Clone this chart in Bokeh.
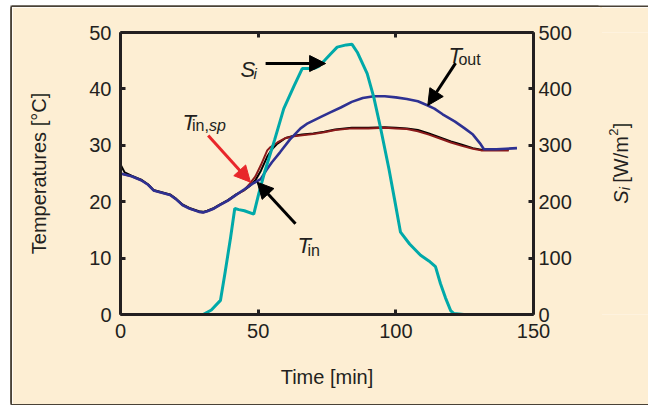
import math
from bokeh.plotting import figure
from bokeh.layouts import row
from bokeh.models import (Range1d, LinearAxis, FixedTicker, Label, Arrow, NormalHead,
                          CustomJSTickFormatter)
from bokeh.embed import file_html
from bokeh.resources import INLINE

# ---------------- data ----------------
t_si = [0, 30, 33, 36.3, 38, 40, 41.5, 43, 45, 48.4, 50.2, 52.5, 56, 59.3, 63, 66, 70.2, 72,
        74, 76.3, 78.7, 82, 84.1, 86, 89.6, 92, 94.4, 97.5, 99.5, 101.7, 105, 109, 112, 114.4,
        116.2, 118, 119.9, 121, 124.7, 144]
si = [0, 0, 8, 25, 75, 137, 188, 186, 184, 178, 214, 255, 310, 365, 405, 436, 436, 440,
      450, 462, 474, 478, 479, 465, 427, 385, 332, 258, 205, 146, 125, 105, 95, 85,
      55, 30, 7, 2, 0, 0]

t_out = [0, 4, 7.5, 10, 12, 15, 18, 20, 22.5, 25, 28.5, 30, 31.5, 34, 36, 39, 42, 45, 48,
         50.9, 53, 55, 58, 61.5, 65.4, 68, 72.6, 76, 80, 84, 88, 92, 96, 100, 104, 108,
         111.4, 114, 117, 121.5, 125, 128, 130.8, 132, 136.5, 140, 144]
T_out = [25.0, 24.5, 23.8, 23.0, 22.0, 21.6, 21.2, 20.5, 19.4, 18.8, 18.2, 18.1, 18.3, 18.8,
         19.4, 20.2, 21.2, 22.2, 23.2, 24.0, 25.6, 27.0, 28.8, 31.0, 33.0, 33.9, 35.0, 35.8,
         36.7, 37.7, 38.4, 38.7, 38.7, 38.5, 38.2, 37.8, 37.1, 36.5, 35.5, 34.2, 33.0, 31.9,
         30.2, 29.3, 29.3, 29.4, 29.5]

t_sp = [0, 4, 7.5, 10, 12, 15, 18, 20, 22.5, 25, 28.5, 30, 31.5, 34, 36, 39, 42, 44.8, 47,
        49, 51, 53.3, 54.5, 57, 60, 63, 66, 70, 74, 78, 84, 90, 96, 100, 104, 108, 112, 116,
        120, 124, 128, 131, 135, 141]
T_sp = [25.0, 24.5, 23.8, 23.0, 22.0, 21.6, 21.2, 20.5, 19.4, 18.8, 18.2, 18.1, 18.3, 18.8,
        19.4, 20.2, 21.2, 22.0, 23.2, 24.5, 26.5, 29.1, 29.7, 30.5, 31.3, 31.6, 31.8, 32.0,
        32.3, 32.7, 33.0, 33.0, 33.1, 33.0, 32.9, 32.5, 31.9, 31.2, 30.5, 29.9, 29.4, 29.1,
        29.1, 29.1]

t_in = [0, 1.5, 4, 7.5, 10, 12, 15, 18, 20, 22.5, 25, 28.5, 30, 31.5, 34, 36, 39, 42, 44.8,
        47, 49, 51, 53.3, 55, 57, 60, 63, 66, 70, 74, 78, 84, 90, 96, 100, 104, 108, 112,
        116, 120, 124, 128, 131, 135, 141]
T_in = [26.6, 25.2, 24.6, 23.9, 23.1, 22.1, 21.7, 21.3, 20.6, 19.5, 18.9, 18.3, 18.2, 18.4,
        18.9, 19.5, 20.3, 21.3, 22.0, 22.8, 23.8, 25.5, 28.0, 29.3, 30.3, 31.3, 31.7, 31.9,
        32.1, 32.4, 32.8, 33.1, 33.1, 33.2, 33.1, 33.0, 32.7, 32.1, 31.4, 30.7, 30.1, 29.5,
        29.2, 29.2, 29.2]

x_ticks = [0, 50, 100, 150]
y_ticks = [0, 10, 20, 30, 40, 50]
si_ticks = [0, 100, 200, 300, 400, 500]

# ---------------- style ----------------
BEIGE = "#FDEED3"
INK = "#231F20"
EDGE = "#4A4237"
FONT = "Liberation Sans"

p = figure(width=588, height=397, output_backend="svg", toolbar_location=None,
           x_range=Range1d(0, 150), y_range=Range1d(0, 50),
           min_border_left=108, min_border_right=67, min_border_top=25, min_border_bottom=90,
           background_fill_color=BEIGE, border_fill_color=BEIGE)
p.margin = (7, 0, 1, 12)
p.styles = {"box-shadow": f"2px 0 0 0 {BEIGE}, -1.5px 0 0 0 {EDGE}, 0 -1.5px 0 0 {EDGE}, "
                          f"0 1.5px 0 0 {EDGE}, -1.5px -1.5px 0 0 {EDGE}, -1.5px 1.5px 0 0 {EDGE}"}
p.extra_y_ranges = {"si": Range1d(0, 500)}
p.grid.visible = False
p.outline_line_color = None

bottom_ax = p.below[0]
left_ax = p.left[0]
right_ax = LinearAxis(y_range_name="si")
top_ax = LinearAxis()
p.add_layout(right_ax, "right")
p.add_layout(top_ax, "above")


def style(ax, ticks, standoff):
    ax.ticker = FixedTicker(ticks=ticks)
    ax.axis_line_width = 3
    ax.axis_line_color = INK
    ax.major_tick_in = 5
    ax.major_tick_out = 0
    ax.major_tick_line_width = 3
    ax.major_tick_line_color = INK
    ax.minor_tick_line_color = None
    ax.major_label_text_font = FONT
    ax.major_label_text_font_size = "20px"
    ax.major_label_text_color = INK
    ax.major_label_standoff = standoff
    ax.axis_label_text_font = FONT
    ax.axis_label_text_font_size = "20px"
    ax.axis_label_text_font_style = "normal"
    ax.axis_label_text_color = INK


style(bottom_ax, x_ticks, 9)
style(left_ax, y_ticks, 9)
style(right_ax, si_ticks, 5)
style(top_ax, x_ticks, 0)
top_ax.formatter = CustomJSTickFormatter(code="return ''")
top_ax.major_label_text_font_size = "1px"

bottom_ax.axis_label = "Time [min]"
bottom_ax.axis_label_standoff = 25
left_ax.axis_label = "Temperatures [°C]"
left_ax.axis_label_standoff = 36

# ---------------- lines ----------------
p.line(t_in, T_in, color="black", line_width=2)
p.line(t_sp, T_sp, color="#8B1A1A", line_width=2)
p.line(t_out, T_out, color="#2E3192", line_width=2.6)
p.line(t_si, si, color="#00A9A9", line_width=3, y_range_name="si")

# ---------------- annotations ----------------
def lab(fig, x, y, text, size, italic=False, dx=0, dy=0, angle=0.0):
    fig.add_layout(Label(x=x, y=y, text=text, x_offset=dx, y_offset=dy, angle=angle,
                         text_font=FONT, text_font_size=size, text_color=INK,
                         text_font_style="italic" if italic else "normal",
                         text_align="left", text_baseline="alphabetic"))


def arrow(x0, y0, x1, y1, color="black"):
    p.add_layout(Arrow(x_start=x0, y_start=y0, x_end=x1, y_end=y1,
                       line_color=color, line_width=3,
                       end=NormalHead(size=16, fill_color=color, line_color=color)))


lab(p, 43.6, 43.44, "S", "22px", italic=True)
lab(p, 43.6, 43.44, "i", "15px", italic=True, dx=13, dy=-4)
arrow(52.7, 44.5, 74.5, 44.5)

lab(p, 119.1, 45.9, "T", "22px", italic=True)
lab(p, 119.1, 45.9, "out", "16px", dx=10, dy=-4)
arrow(121.7, 44.56, 111.6, 37.06)

lab(p, 22.5, 34.1, "T", "22px", italic=True)
lab(p, 22.5, 34.1, "in,", "16px", dx=9.5, dy=-3.5)
lab(p, 22.5, 34.1, "sp", "16px", italic=True, dx=26.5, dy=-3.5)
arrow(31.85, 31.74, 47.2, 23.46, color="#E8262A")

lab(p, 64.3, 12.23, "T", "22px", italic=True)
lab(p, 64.3, 12.23, "in", "16px", dx=10, dy=-4.5)
arrow(63.56, 16.08, 49.65, 23.46)

# ---------------- right-hand axis title  S_i [W/m^2]  (separate strip) ----------------
strip = figure(width=48, height=397, output_backend="svg", toolbar_location=None,
               x_range=Range1d(0, 48), y_range=Range1d(0, 397),
               min_border=0, x_axis_location=None, y_axis_location=None,
               background_fill_color=BEIGE, border_fill_color=BEIGE)
strip.outline_line_color = None
strip.grid.visible = False
strip.margin = (7, 0, 1, 0)
strip.styles = {"box-shadow": f"0 -1.5px 0 0 {EDGE}, 0 1.5px 0 0 {EDGE}"}

# anchor: start of the title, pieces placed by pixel offsets from it
ax0, ay0 = 20, 156
up = math.pi / 2
lab(strip, ax0, ay0, "S", "20px", italic=True, angle=up)
lab(strip, ax0, ay0, "i", "14px", italic=True, angle=up, dx=4, dy=13.5)
lab(strip, ax0, ay0, "[W/m", "20px", angle=up, dy=21)
lab(strip, ax0, ay0, "2", "13px", angle=up, dx=-7, dy=68)
lab(strip, ax0, ay0, "]", "20px", angle=up, dy=75.5)

layout = row(p, strip)
open("out.html", "w").write(file_html(layout, INLINE))
